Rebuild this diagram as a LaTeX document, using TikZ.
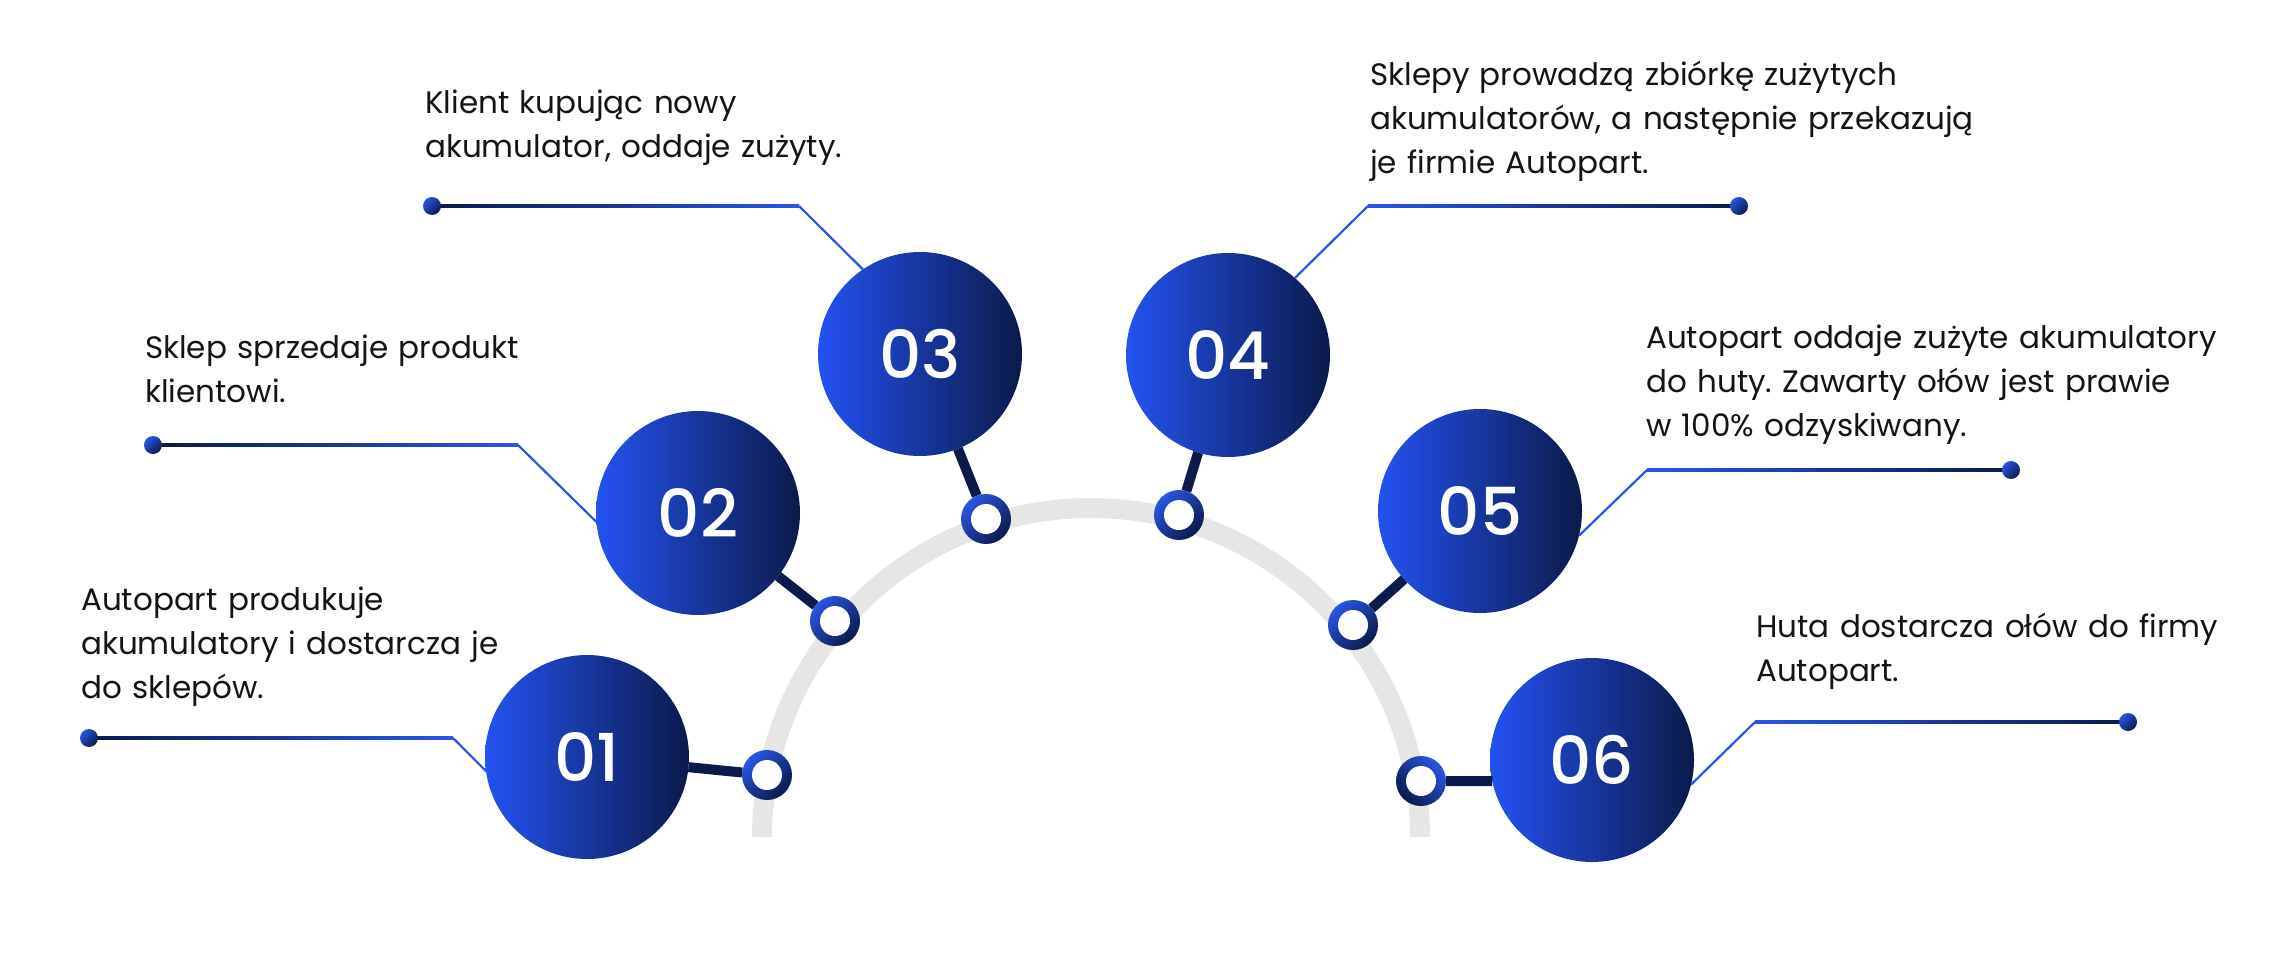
\documentclass[tikz,border=0pt]{standalone}
\usepackage{fontspec}
\setmainfont{Poppins}
\newfontfamily\numfont{Poppins Medium}
\frenchspacing
\definecolor{bblue}{HTML}{2452F2}
\definecolor{navy}{HTML}{0B1A4A}
\definecolor{lblue}{HTML}{2A55E6}
\definecolor{arcgray}{HTML}{E6E6E6}
\definecolor{txt}{HTML}{141414}
\begin{document}
\begin{tikzpicture}[x=1pt,y=-1pt,
  bigc/.style={circle, minimum size=204pt, inner sep=0pt, outer sep=0pt, left color=bblue, right color=navy, text=white, font=\numfont\fontsize{66}{66}\selectfont},
  ringc/.style={circle, minimum size=50pt, inner sep=0pt, outer sep=0pt, top color=lblue, bottom color=navy, shading angle=#1},
  dotc/.style={circle, minimum size=18pt, inner sep=0pt, outer sep=0pt, top color=lblue, bottom color=navy, shading angle=45},
  desc/.style={anchor=base west, inner sep=0pt, text width=700pt, align=left, text=txt, font=\frenchspacing\fontsize{31}{44}\selectfont},
  linkbar/.style={line width=10pt, draw=navy},
  leadline/.style={line width=2.2pt, draw=lblue},
  hole/.style={fill=white}]
\useasboundingbox (0,0) rectangle (2280,974);
% arc
\draw[arcgray, line width=20pt] (762,837) arc[start angle=180, end angle=360, radius=329];
% big circles
\node[bigc] (c1) at (587,757) {01};
\node[bigc] (c2) at (698,513) {02};
\node[bigc] (c3) at (920,354) {03};
\node[bigc] (c4) at (1228,355) {04};
\node[bigc] (c5) at (1480,511) {05};
\node[bigc] (c6) at (1592,760) {06};
% rings
\node[ringc=45] (r1) at (767,775) {};
\node[ringc=45] (r2) at (835,621) {};
\node[ringc=45] (r3) at (986,519) {};
\node[ringc=45] (r4) at (1179,515) {};
\node[ringc=45] (r5) at (1353,625) {};
\node[ringc=-45] (r6) at (1421,781) {};
% bars
\draw[linkbar] (c1) -- (r1);
\draw[linkbar] (c2) -- (r2);
\draw[linkbar] (c3) -- (r3);
\draw[linkbar] (c4) -- (r4);
\draw[linkbar] (c5) -- (r5);
\draw[linkbar] (c6.192) -- (r6);
\foreach \r in {r1,r2,r3,r4,r5,r6} {\fill[hole] (\r) circle (15);}
% leader corners
\coordinate (k1) at (453,738);
\coordinate (k2) at (518,445);
\coordinate (k3) at (799,206);
\coordinate (k4) at (1368,206);
\coordinate (k5) at (1647,470);
\coordinate (k6) at (1755,722);
\coordinate (p1) at (89,738);
\coordinate (p2) at (153,445);
\coordinate (p3) at (432,206);
\coordinate (p4) at (1739,206);
\coordinate (p5) at (2011,470);
\coordinate (p6) at (2128,722);
% horizontal leaders
\shade[left color=navy, right color=lblue] ([yshift=1.1pt]p1) rectangle ([yshift=-1.1pt]k1);
\shade[left color=navy, right color=lblue] ([yshift=1.1pt]p2) rectangle ([yshift=-1.1pt]k2);
\shade[left color=navy, right color=lblue] ([yshift=1.1pt]p3) rectangle ([yshift=-1.1pt]k3);
\shade[left color=lblue, right color=navy] ([yshift=1.1pt]k4) rectangle ([yshift=-1.1pt]p4);
\shade[left color=lblue, right color=navy] ([yshift=1.1pt]k5) rectangle ([yshift=-1.1pt]p5);
\shade[left color=lblue, right color=navy] ([yshift=1.1pt]k6) rectangle ([yshift=-1.1pt]p6);
% diagonals
\draw[leadline] (k1) -- (c1.188);
\draw[leadline] (k2) -- (c2.185);
\draw[leadline] (k3) -- (c3.124);
\draw[leadline] (k4) -- (c4.49);
\draw[leadline] (k5) -- (c5.-14);
\draw[leadline] (k6) -- (c6.-14);
% dots
\node[dotc] (d1) at (p1) {};
\node[dotc] (d2) at (p2) {};
\node[dotc] (d3) at (p3) {};
\node[dotc] (d4) at (p4) {};
\node[dotc] (d5) at (p5) {};
\node[dotc] (d6) at (p6) {};
% texts
\node[desc] (t1) at (81,610) {Autopart produkuje\\akumulatory i dostarcza je\\do sklepów.};
\node[desc] (t2) at (145,358) {Sklep sprzedaje produkt\\klientowi.};
\node[desc] (t3) at (425,113) {Klient kupując nowy\\akumulator, oddaje zużyty.};
\node[desc] (t4) at (1370,85) {Sklepy prowadzą zbiórkę zużytych\\akumulatorów, a następnie przekazują\\je firmie Autopart.};
\node[desc] (t5) at (1646,348) {Autopart oddaje zużyte akumulatory\\do huty. Zawarty ołów jest prawie\\w 100\% odzyskiwany.};
\node[desc] (t6) at (1756,637) {Huta dostarcza ołów do firmy\\Autopart.};
\end{tikzpicture}
\end{document}
